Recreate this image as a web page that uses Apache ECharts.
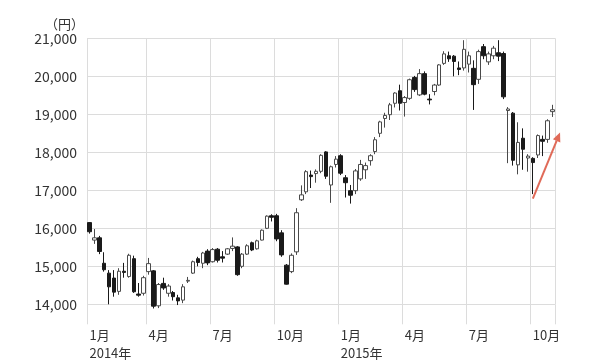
<!DOCTYPE html>
<html><head><meta charset="utf-8">
<script src="https://cdn.jsdelivr.net/npm/echarts@6/dist/echarts.min.js"></script>
<style>html,body{margin:0;padding:0;background:#fff}#c{width:600px;height:364px}</style>
</head><body><div id="c"></div>
<script>
// Weekly Nikkei-style OHLC, first week 2014-01-06
const startWeek = '2014-01-06';
const weekCount = 95;
const opens = [16150,15690,15750,15080,14820,14690,14340,14870,14730,15200,14270,14290,14860,14880,13960,14550,14290,14310,14170,14110,14610,14820,15200,15080,15400,15120,15450,15250,15320,15470,15510,15000,15320,15620,15460,15690,16000,16330,16330,15880,15030,14860,15380,16750,16960,17400,17440,17500,18010,17140,17680,17910,17330,16990,16990,17300,17540,17780,18020,18500,18890,18990,19290,19620,19310,19420,19970,19510,20070,19400,19600,19770,20340,20540,20530,20220,20220,20320,20210,19920,20780,20380,20540,20620,20600,19100,19030,17670,18370,17850,17840,17930,18340,18340,19070];
const closes = [15910,15750,15390,14910,14460,14320,14870,14840,15290,14330,14240,14700,15070,13950,14520,14430,14480,14200,14090,14460,14630,15120,15100,15350,15090,15440,15160,15215,15460,15530,14780,15320,15540,15430,15670,15950,16320,16290,15720,15300,14530,15290,16410,16880,17490,17360,17500,17920,17370,17620,17820,17450,17200,16870,17510,17680,17650,17910,18330,18800,18970,19250,19560,19290,19440,19910,19650,20070,19530,19380,19770,20300,20590,20460,20390,20180,20710,20540,19780,20650,20540,20590,20740,20530,19460,19140,17790,18260,18080,17900,17730,18440,18290,18830,19120];
const lows = [15860,15590,15320,14860,14000,14200,14250,14700,14700,14300,14200,14230,14780,13890,13900,14380,14200,14100,13980,14030,14560,14800,15000,14950,15030,15100,15100,15100,15300,15400,14750,14950,15300,15400,15440,15680,15980,16180,15660,15250,14520,14820,15300,16720,16900,17060,17200,17450,17300,16670,17600,17400,16810,16650,16900,17250,17300,17650,17950,18400,18650,18850,19180,19100,18940,19380,19590,19480,19500,19260,19500,19750,20300,20380,20000,20030,20150,20100,19115,19800,20450,20300,20450,20400,19400,17714,17650,17420,17540,17490,16900,17850,17900,18250,18930];
const highs = [16165,15980,15800,15370,14900,14900,14950,15090,15330,15280,14560,14750,15220,14900,14560,14700,14530,14350,14250,14530,14720,15150,15250,15380,15450,15480,15480,15400,15480,15760,15530,15350,15580,15650,15700,15970,16340,16370,16380,15950,15060,15340,16530,17130,17530,17520,17550,17950,18030,17650,17900,17950,17400,17140,17560,17800,17730,17950,18400,18830,19040,19300,19580,19780,19480,19940,20010,20190,20130,19530,19800,20320,20660,20650,20560,20390,20950,20650,20420,20700,20850,20650,20800,20950,20650,19190,19060,18790,18630,17950,17870,18470,18440,18870,19250];
// Quarter tick positions (week index containing the 1st of the month) and labels
const tickIndex = [0, 12, 25, 38, 51, 64, 77, 90];
const tickLabels = ['1月\n2014年', '4月', '7月', '10月', '1月\n2015年', '4月', '7月', '10月'];
const yTicks = [14000, 15000, 16000, 17000, 18000, 19000, 20000, 21000];
// Annotation arrow (data space)
const arrowFrom = [90, 16780];
const arrowTo = [94, 18520];

const weeks = [];
{
  const d = new Date(startWeek + 'T00:00:00Z');
  for (let i = 0; i < weekCount; i++) {
    weeks.push(d.toISOString().slice(0, 10));
    d.setUTCDate(d.getUTCDate() + 7);
  }
}
const ohlc = opens.map((o, i) => [o, closes[i], lows[i], highs[i]]);
const isTick = (idx) => tickIndex.indexOf(idx) >= 0;
const FONT = '"Noto Sans CJK JP", "Noto Sans", sans-serif';
const GRID = '#dcdcdc';

const chart = echarts.init(document.getElementById('c'), null, {renderer: 'canvas'});
chart.setOption({
  animation: false,
  backgroundColor: '#fff',
  title: {
    text: '（円）', left: 40, top: 13,
    textStyle: {fontSize: 13, fontWeight: 'normal', color: '#333', fontFamily: FONT}
  },
  grid: {left: 87, right: 45, top: 38.3, bottom: 59.7},
  xAxis: {
    type: 'category',
    data: weeks,
    boundaryGap: true,
    axisLine: {show: false},
    axisTick: {show: true, length: 20, interval: (i) => isTick(i), lineStyle: {color: GRID}},
    splitLine: {show: true, interval: (i) => isTick(i), lineStyle: {color: GRID, width: 1}},
    axisLabel: {
      interval: (i) => isTick(i),
      formatter: (v, i) => { const k = tickIndex.indexOf(i); return k >= 0 ? tickLabels[k] : ''; },
      align: 'left', margin: 22, lineHeight: 18,
      fontSize: 13, color: '#333', fontFamily: FONT
    }
  },
  yAxis: {
    type: 'value',
    min: yTicks[0], max: yTicks[yTicks.length - 1], interval: 1000,
    axisLine: {show: false}, axisTick: {show: false},
    splitLine: {lineStyle: {color: GRID, width: 1}},
    axisLabel: {
      margin: 10, fontSize: 14, color: '#333', fontFamily: FONT,
      formatter: (v) => v.toLocaleString('en-US')
    }
  },
  series: [{
    type: 'candlestick',
    data: ohlc,
    clip: false,
    barWidth: 4,
    itemStyle: {
      color: '#ffffff', color0: '#1a1a1a',
      borderColor: '#4a4a4a', borderColor0: '#1a1a1a', borderWidth: 1
    }
  }]
});

const p0 = chart.convertToPixel({gridIndex: 0}, arrowFrom);
const p1 = chart.convertToPixel({gridIndex: 0}, arrowTo);
p1[0] += 7.5;
const ang = Math.atan2(p1[1] - p0[1], p1[0] - p0[0]);
const hl = 9, hw = 4;
const base = [p1[0] - hl * Math.cos(ang), p1[1] - hl * Math.sin(ang)];
const nx = -Math.sin(ang), ny = Math.cos(ang);
chart.setOption({
  graphic: [
    {type: 'line', shape: {x1: p0[0], y1: p0[1], x2: base[0], y2: base[1]},
     style: {stroke: '#e06a58', lineWidth: 2}, z: 100},
    {type: 'polygon', shape: {points: [p1, [base[0] + nx * hw, base[1] + ny * hw], [base[0] - nx * hw, base[1] - ny * hw]]},
     style: {fill: '#e06a58'}, z: 100}
  ]
});
</script></body></html>
